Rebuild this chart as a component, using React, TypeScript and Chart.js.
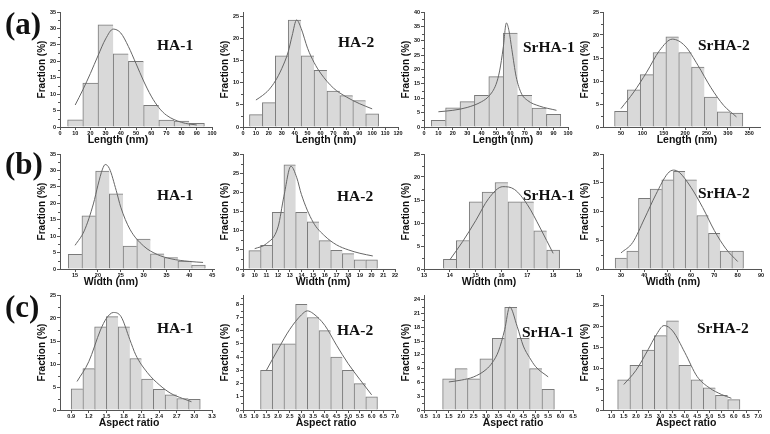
import React, { useEffect, useRef } from 'react';
import { Chart, registerables } from 'chart.js';

Chart.register(...registerables);

// ---------------- data ----------------
// (a) Length
const ha1LenBins = [10, 20, 30, 40, 50, 60, 70, 80, 90];
const ha1LenFreq = [2.2, 13.4, 31.1, 22.3, 20.0, 6.6, 2.1, 1.8, 1.1];
const ha1LenFitX = [10, 15, 20, 25, 30, 35, 40, 45, 50, 55, 60, 65, 70, 80, 90];
const ha1LenFitY = [6.7, 11.3, 16.3, 21.7, 26.8, 29.8, 28.6, 24.5, 19.3, 14, 9.4, 5.9, 3.6, 1.4, 0.6];

const ha2LenBins = [10, 20, 30, 40, 50, 60, 70, 80, 90, 100];
const ha2LenFreq = [2.8, 5.5, 16.1, 24.2, 16.1, 12.8, 8.1, 7.1, 6.0, 3.0];
const ha2LenFitX = [10, 15, 20, 25, 30, 35, 38, 41.5, 45, 50, 55, 60, 70, 80, 90, 100];
const ha2LenFitY = [6.1, 7.1, 8.4, 10.4, 13.2, 17.0, 20.6, 24.2, 22.3, 17.8, 14.6, 12.2, 8.8, 6.8, 5.3, 4.1];

const sr1LenBins = [10, 20, 30, 40, 50, 60, 70, 80, 90];
const sr1LenFreq = [2.3, 6.7, 8.8, 11.0, 17.5, 32.7, 11.0, 6.6, 4.4];
const sr1LenFitX = [10, 20, 30, 40, 45, 50, 52.5, 55, 57.2, 59, 61, 64, 67.5, 72, 80, 92];
const sr1LenFitY = [5.3, 5.8, 6.8, 8.8, 10.7, 14.8, 19.5, 27.5, 36.2, 33.5, 27, 17.5, 11.8, 9.2, 7.3, 5.8];

const sr2LenBins = [50, 80, 110, 140, 170, 200, 230, 260, 290, 320];
const sr2LenFreq = [3.4, 8.1, 11.4, 16.2, 19.6, 16.2, 13.0, 6.5, 3.3, 3.0];
const sr2LenFitX = [50, 80, 110, 140, 170, 200, 230, 260, 290, 320];
const sr2LenFitY = [4.0, 7.6, 11.9, 16.6, 19.1, 17.6, 13.4, 8.6, 4.7, 2.2];

// (b) Width
const ha1WidBins = [15, 18, 21, 24, 27, 30, 33, 36, 39, 42];
const ha1WidFreq = [4.5, 16.2, 29.8, 22.9, 7.0, 9.1, 4.6, 3.5, 2.4, 1.2];
const ha1WidFitX = [15, 17, 19, 20, 21, 21.6, 22.5, 24, 25, 27, 30, 33, 36, 40, 43];
const ha1WidFitY = [7.2, 11.6, 19.8, 25.5, 30.4, 31.8, 30.6, 23.9, 18.8, 12.1, 7.0, 4.4, 3.1, 2.3, 2.0];

const ha2WidBins = [10, 11, 12, 13, 14, 15, 16, 17, 18, 19, 20];
const ha2WidFreq = [4.8, 6.2, 14.8, 27.2, 14.8, 12.3, 7.4, 4.9, 4.0, 2.4, 2.4];
const ha2WidFitX = [10, 11, 12, 12.5, 13.1, 13.6, 14, 15, 16, 17, 18, 19, 20.1];
const ha2WidFitY = [5.3, 6.6, 11, 19, 26.8, 23.8, 19.4, 12.2, 8.6, 6.3, 5.0, 4.1, 3.4];

const sr1WidBins = [14, 14.5, 15, 15.5, 16, 16.5, 17, 17.5, 18];
const sr1WidFreq = [2.1, 6.2, 14.6, 16.7, 18.8, 14.6, 14.6, 8.3, 4.1];
const sr1WidFitX = [14, 14.5, 15, 15.5, 16.05, 16.5, 17, 17.5, 18];
const sr1WidFitY = [2.0, 6.0, 10.5, 15.3, 17.9, 17.3, 14.0, 8.9, 3.4];

const sr2WidBins = [30, 35, 40, 45, 50, 55, 60, 65, 70, 75, 80];
const sr2WidFreq = [1.9, 3.1, 12.3, 13.9, 15.5, 17.0, 15.5, 9.3, 6.2, 3.1, 3.1];
const sr2WidFitX = [30, 35, 40, 45, 50, 52.5, 55, 60, 65, 70, 75, 80];
const sr2WidFitY = [2.8, 4.6, 8.7, 13.0, 16.6, 17.2, 16.8, 14.2, 10.7, 6.7, 3.5, 1.3];

// (c) Aspect ratio
const ha1ArBins = [1.0, 1.2, 1.4, 1.6, 1.8, 2.0, 2.2, 2.4, 2.6, 2.8, 3.0];
const ha1ArFreq = [4.6, 9.0, 18.1, 20.3, 18.1, 11.2, 6.7, 4.5, 3.3, 2.5, 2.3];
const ha1ArFitX = [1.0, 1.2, 1.4, 1.5, 1.62, 1.75, 1.9, 2.0, 2.2, 2.4, 2.6, 2.8, 2.95];
const ha1ArFitY = [6.2, 10.5, 17.4, 19.9, 21.2, 20.3, 15.3, 12.0, 8.1, 5.5, 3.6, 2.5, 1.8];

const ha2ArBins = [1.5, 2.0, 2.5, 3.0, 3.5, 4.0, 4.5, 5.0, 5.5, 6.0];
const ha2ArFreq = [3, 5, 5, 8, 7, 6, 4, 3, 2, 1];
const ha2ArFitX = [1.5, 2.0, 2.5, 3.0, 3.25, 3.5, 4.0, 4.5, 5.0, 5.5, 6.0];
const ha2ArFitY = [3.0, 4.6, 6.1, 7.2, 7.5, 7.3, 6.4, 4.9, 3.5, 2.3, 1.15];

const sr1ArBins = [1.5, 2.0, 2.5, 3.0, 3.5, 4.0, 4.5, 5.0, 5.5];
const sr1ArFreq = [6.8, 9.0, 6.8, 11.1, 15.6, 22.3, 15.6, 9.0, 4.5];
const sr1ArFitX = [1.5, 2.0, 2.5, 3.0, 3.25, 3.5, 3.75, 3.95, 4.25, 4.5, 4.75, 5.0, 5.5];
const sr1ArFitY = [6.1, 6.5, 7.2, 8.8, 10.3, 12.8, 17.5, 22.4, 18.2, 13.9, 11.4, 9.4, 7.2];

const sr2ArBins = [1.5, 2.0, 2.5, 3.0, 3.5, 4.0, 4.5, 5.0, 5.5, 6.0];
const sr2ArFreq = [7.2, 10.7, 14.3, 17.8, 21.3, 10.7, 7.2, 5.3, 3.5, 2.5];
const sr2ArFitX = [1.5, 2.0, 2.5, 2.8, 3.15, 3.5, 4.0, 4.5, 5.0, 5.5, 5.9];
const sr2ArFitY = [6.1, 9.5, 14.5, 17.7, 20.2, 18.9, 13.7, 8.0, 5.3, 3.7, 2.8];

// tick labels
const lenTicks100 = [0, 10, 20, 30, 40, 50, 60, 70, 80, 90, 100];
const lenTicks120 = [0, 10, 20, 30, 40, 50, 60, 70, 80, 90, 100, 110, 120];
const lenTicksSr2 = [50, 100, 150, 200, 250, 300, 350];
const widTicksHA1 = [15, 20, 25, 30, 35, 40, 45];
const widTicksHA2 = [9, 10, 11, 12, 13, 14, 15, 16, 17, 18, 19, 20, 21, 22];
const widTicksSr1 = [13, 14, 15, 16, 17, 18, 19];
const widTicksSr2 = [30, 40, 50, 60, 70, 80, 90];
const arTicksHA1 = [0.9, 1.2, 1.5, 1.8, 2.1, 2.4, 2.7, 3.0, 3.3];
const arTicksHA2 = [0.5, 1.0, 1.5, 2.0, 2.5, 3.0, 3.5, 4.0, 4.5, 5.0, 5.5, 6.0, 6.5, 7.0];
const arTicksSr1 = [0.5, 1.0, 1.5, 2.0, 2.5, 3.0, 3.5, 4.0, 4.5, 5.0, 5.5, 6.0, 6.5];
const arTicksSr2 = [1.0, 1.5, 2.0, 2.5, 3.0, 3.5, 4.0, 4.5, 5.0, 5.5, 6.0, 6.5, 7.0];

const yTicks40 = [0, 5, 10, 15, 20, 25, 30, 35, 40];
const yTicks35 = [0, 5, 10, 15, 20, 25, 30, 35];
const yTicks30 = [0, 5, 10, 15, 20, 25, 30];
const yTicks25 = [0, 5, 10, 15, 20, 25];
const yTicks20 = [0, 5, 10, 15, 20];
const yTicks8 = [0, 1, 2, 3, 4, 5, 6, 7, 8];
const yTicks24 = [0, 3, 6, 9, 12, 15, 18, 21, 24];

// ---------------- styling / layout ----------------
const SANS = '"Liberation Sans", Arial, sans-serif';
const SERIF = '"Liberation Serif", "Times New Roman", serif';
const AXIS = '#555555';
const TEXT = '#111111';
const BAR_FILL = '#d9d9d9';
const BAR_EDGE = '#7a7a7a';
const FIT = '#666666';

const Y_AXIS_W = 24;
const PAD_TOP = 6;
const PAD_RIGHT = 10;
const X_AXIS_H = 20;

type PanelCfg = {
  label: string;
  bins: number[];
  freq: number[];
  fitX: number[];
  fitY: number[];
  xTicks: number[];
  yTicks: number[];
  xDec: number;
  xMin: number;
  xMax: number;
  yMax: number;
  xTitle: string;
  L: number;
  R: number;
  T: number;
  B: number;
  labelX: number;
  labelY: number;
  titleX: number;
  big?: { text: string; x: number; y: number };
};

const panels: PanelCfg[] = [
  { label: 'HA-1', bins: ha1LenBins, freq: ha1LenFreq, fitX: ha1LenFitX, fitY: ha1LenFitY, xTicks: lenTicks100, yTicks: yTicks35, xDec: 0, xMin: 0, xMax: 100, yMax: 35, xTitle: 'Length (nm)', L: 60, R: 212, T: 12, B: 127, labelX: 157, labelY: 49.5, titleX: 118, big: { text: '(a)', x: 5, y: 34 } },
  { label: 'HA-2', bins: ha2LenBins, freq: ha2LenFreq, fitX: ha2LenFitX, fitY: ha2LenFitY, xTicks: lenTicks120, yTicks: yTicks25, xDec: 0, xMin: 0, xMax: 120, yMax: 26, xTitle: 'Length (nm)', L: 243, R: 398, T: 12, B: 127, labelX: 338, labelY: 47, titleX: 326 },
  { label: 'SrHA-1', bins: sr1LenBins, freq: sr1LenFreq, fitX: sr1LenFitX, fitY: sr1LenFitY, xTicks: lenTicks100, yTicks: yTicks40, xDec: 0, xMin: 0, xMax: 100, yMax: 40, xTitle: 'Length (nm)', L: 424, R: 568, T: 12, B: 127, labelX: 523, labelY: 51.5, titleX: 503 },
  { label: 'SrHA-2', bins: sr2LenBins, freq: sr2LenFreq, fitX: sr2LenFitX, fitY: sr2LenFitY, xTicks: lenTicksSr2, yTicks: yTicks25, xDec: 0, xMin: 8, xMax: 375, yMax: 25, xTitle: 'Length (nm)', L: 603, R: 760, T: 12, B: 127, labelX: 698, labelY: 50, titleX: 687 },

  { label: 'HA-1', bins: ha1WidBins, freq: ha1WidFreq, fitX: ha1WidFitX, fitY: ha1WidFitY, xTicks: widTicksHA1, yTicks: yTicks35, xDec: 0, xMin: 11.7, xMax: 45.4, yMax: 35, xTitle: 'Width (nm)', L: 60, R: 214, T: 154, B: 269, labelX: 157, labelY: 200, titleX: 111, big: { text: '(b)', x: 5, y: 174 } },
  { label: 'HA-2', bins: ha2WidBins, freq: ha2WidFreq, fitX: ha2WidFitX, fitY: ha2WidFitY, xTicks: widTicksHA2, yTicks: yTicks30, xDec: 0, xMin: 9, xMax: 22, yMax: 30, xTitle: 'Width (nm)', L: 243, R: 395, T: 154, B: 269, labelX: 337, labelY: 201, titleX: 323 },
  { label: 'SrHA-1', bins: sr1WidBins, freq: sr1WidFreq, fitX: sr1WidFitX, fitY: sr1WidFitY, xTicks: widTicksSr1, yTicks: yTicks25, xDec: 0, xMin: 13, xMax: 19, yMax: 25, xTitle: 'Width (nm)', L: 424, R: 579, T: 154, B: 269, labelX: 523, labelY: 200, titleX: 489 },
  { label: 'SrHA-2', bins: sr2WidBins, freq: sr2WidFreq, fitX: sr2WidFitX, fitY: sr2WidFitY, xTicks: widTicksSr2, yTicks: yTicks20, xDec: 0, xMin: 22.3, xMax: 90, yMax: 20, xTitle: 'Width (nm)', L: 603, R: 761, T: 154, B: 269, labelX: 698, labelY: 198, titleX: 673 },

  { label: 'HA-1', bins: ha1ArBins, freq: ha1ArFreq, fitX: ha1ArFitX, fitY: ha1ArFitY, xTicks: arTicksHA1, yTicks: yTicks25, xDec: 1, xMin: 0.71, xMax: 3.3, yMax: 25, xTitle: 'Aspect ratio', L: 60, R: 212, T: 295, B: 410, labelX: 157, labelY: 333, titleX: 129, big: { text: '(c)', x: 5, y: 317 } },
  { label: 'HA-2', bins: ha2ArBins, freq: ha2ArFreq, fitX: ha2ArFitX, fitY: ha2ArFitY, xTicks: arTicksHA2, yTicks: yTicks8, xDec: 1, xMin: 0.5, xMax: 7.0, yMax: 8.7, xTitle: 'Aspect ratio', L: 243, R: 395, T: 295, B: 410, labelX: 337, labelY: 335, titleX: 326 },
  { label: 'SrHA-1', bins: sr1ArBins, freq: sr1ArFreq, fitX: sr1ArFitX, fitY: sr1ArFitY, xTicks: arTicksSr1, yTicks: yTicks24, xDec: 1, xMin: 0.5, xMax: 6.5, yMax: 25, xTitle: 'Aspect ratio', L: 424, R: 573, T: 295, B: 410, labelX: 522, labelY: 337, titleX: 513 },
  { label: 'SrHA-2', bins: sr2ArBins, freq: sr2ArFreq, fitX: sr2ArFitX, fitY: sr2ArFitY, xTicks: arTicksSr2, yTicks: yTicks25, xDec: 1, xMin: 0.65, xMax: 7.07, yMax: 27.5, xTitle: 'Aspect ratio', L: 603, R: 760, T: 295, B: 410, labelX: 697, labelY: 333, titleX: 686 },
];

function PanelChart({ p }: { p: PanelCfg }) {
  const ref = useRef<HTMLCanvasElement>(null);
  const padLeft = p.big ? p.L - Y_AXIS_W : 0;
  const left = p.L - Y_AXIS_W - padLeft;
  const top = p.T - PAD_TOP;
  const width = p.R - left + PAD_RIGHT;
  const height = p.B - top + X_AXIS_H;

  useEffect(() => {
    const canvas = ref.current;
    if (!canvas) return;
    const n = p.bins.length;

    const textPlugin = {
      id: 'panelText',
      afterDraw(chart: any) {
        const ctx = chart.ctx as CanvasRenderingContext2D;
        ctx.save();
        // minor ticks on y axis
        const ys = chart.scales.y;
        const tv = p.yTicks;
        const step = tv[1] - tv[0];
        const ax = chart.chartArea.left;
        ctx.strokeStyle = AXIS;
        ctx.lineWidth = 1;
        ctx.beginPath();
        for (let k = 0; k < tv.length; k++) {
          const v = tv[k] + step / 2;
          if (v > ys.max + 1e-9) break;
          const py = Math.round(ys.getPixelForValue(v)) + 0.5;
          ctx.moveTo(ax - 2, py);
          ctx.lineTo(ax, py);
        }
        ctx.stroke();

        ctx.fillStyle = TEXT;
        ctx.textAlign = 'left';
        ctx.textBaseline = 'alphabetic';
        ctx.font = `bold 15.5px ${SERIF}`;
        ctx.fillText(p.label, p.labelX - left, p.labelY - top);
        if (p.big) {
          ctx.font = `bold 31px ${SERIF}`;
          ctx.fillText(p.big.text, p.big.x - left, p.big.y - top);
        }
        ctx.font = `bold 10.5px ${SANS}`;
        ctx.textAlign = 'center';
        ctx.textBaseline = 'middle';
        ctx.fillText(p.xTitle, p.titleX - left, p.B + 13 - top);
        ctx.restore();
      },
    };

    const tickFont = { family: SANS, size: 5.5, weight: 'bold' as const };

    const chart = new Chart(canvas, {
      type: 'bar',
      data: {
        datasets: [
          {
            type: 'line',
            data: p.fitX.map((x, i) => ({ x, y: p.fitY[i] })),
            borderColor: FIT,
            borderWidth: 1,
            pointRadius: 0,
            cubicInterpolationMode: 'monotone',
            fill: false,
            order: 0,
          } as any,
          {
            type: 'bar',
            data: p.bins.map((x, i) => ({ x, y: p.freq[i] })),
            backgroundColor: BAR_FILL,
            borderColor: BAR_EDGE,
            borderWidth: (c: any) =>
              c.dataIndex === n - 1
                ? { left: 1, top: 1, right: 1, bottom: 0 }
                : { left: 1, top: 1, right: 0, bottom: 0 },
            borderSkipped: false,
            barPercentage: 1,
            categoryPercentage: 1,
            order: 1,
          } as any,
        ],
      },
      options: {
        responsive: false,
        animation: false,
        devicePixelRatio: 1,
        events: [],
        layout: { padding: { left: padLeft, top: PAD_TOP, right: PAD_RIGHT, bottom: 0 } },
        plugins: {
          legend: { display: false },
          tooltip: { enabled: false },
          title: { display: false },
        },
        scales: {
          x: {
            type: 'linear',
            min: p.xMin,
            max: p.xMax,
            offset: false,
            afterBuildTicks: (s: any) => {
              s.ticks = p.xTicks.map((v) => ({ value: v }));
            },
            afterFit: (s: any) => {
              s.height = X_AXIS_H;
            },
            grid: { display: true, drawOnChartArea: false, drawTicks: true, tickLength: 3, color: AXIS, offset: false },
            border: { display: true, color: AXIS, width: 1 },
            ticks: {
              autoSkip: false,
              maxRotation: 0,
              minRotation: 0,
              padding: 0,
              color: TEXT,
              font: tickFont,
              callback: (v: any) => Number(v).toFixed(p.xDec),
            },
          },
          y: {
            type: 'linear',
            min: 0,
            max: p.yMax,
            afterBuildTicks: (s: any) => {
              s.ticks = p.yTicks.map((v) => ({ value: v }));
            },
            afterFit: (s: any) => {
              s.width = Y_AXIS_W;
            },
            grid: { display: true, drawOnChartArea: false, drawTicks: true, tickLength: 3, color: AXIS },
            border: { display: true, color: AXIS, width: 1 },
            ticks: {
              padding: 1,
              color: TEXT,
              font: tickFont,
              callback: (v: any) => String(v),
            },
            title: {
              display: true,
              text: 'Fraction (%)',
              color: TEXT,
              padding: 0,
              font: { family: SANS, size: 10, weight: 'bold' },
            },
          },
        },
      } as any,
      plugins: [textPlugin],
    });
    return () => chart.destroy();
  }, []);

  return (
    <canvas
      ref={ref}
      width={width}
      height={height}
      style={{ position: 'absolute', left, top, width, height }}
    />
  );
}

export default function App() {
  return (
    <div
      style={{
        position: 'absolute',
        left: 0,
        top: 0,
        width: 770,
        height: 434,
        overflow: 'hidden',
        background: '#ffffff',
      }}
    >
      {panels.map((p, i) => (
        <PanelChart key={i} p={p} />
      ))}
    </div>
  );
}
